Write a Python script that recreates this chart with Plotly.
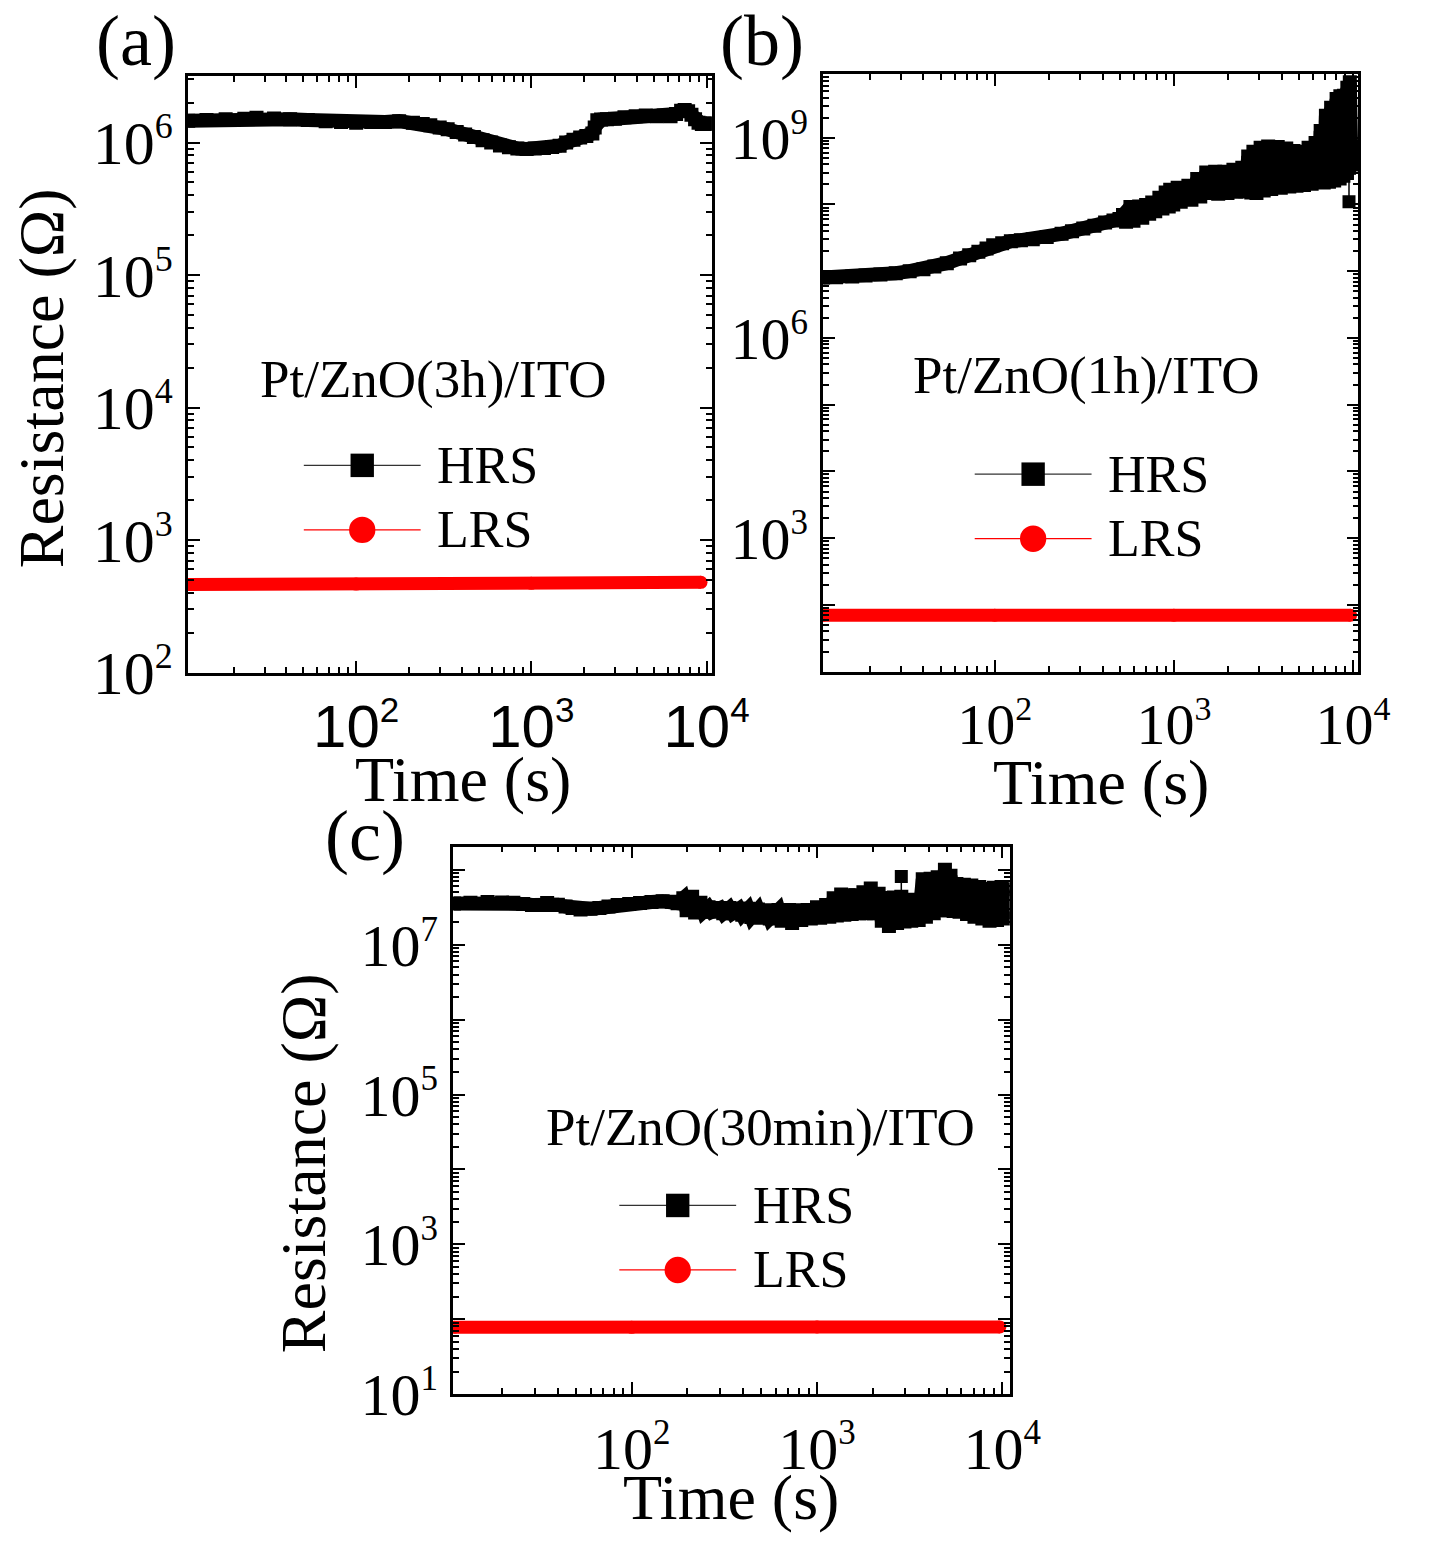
import plotly.graph_objects as go

W, H = 1447, 1566

# ---------------- data ----------------
# (a) Pt/ZnO(3h)/ITO
t_a_hrs = [11, 14, 18, 23, 27, 34, 42, 53, 67, 82, 100, 122, 146, 176, 211, 240, 265, 300,
           333, 375, 419, 470, 527, 590, 662, 745, 832, 940, 1046, 1180, 1315, 1450, 1580,
           1740, 1900, 2060, 2230, 2300, 2380, 2500, 2700, 3000, 3400, 3940, 4500, 5200,
           5700, 6230, 6700, 7160, 7500, 7850, 8200, 8600, 9000, 9400, 9900, 10300]
r_a_hrs = [1.46e6, 1.48e6, 1.50e6, 1.51e6, 1.54e6, 1.52e6, 1.50e6, 1.48e6, 1.45e6, 1.43e6,
           1.41e6, 1.43e6, 1.43e6, 1.45e6, 1.41e6, 1.38e6, 1.35e6, 1.30e6, 1.26e6, 1.20e6,
           1.15e6, 1.10e6, 1.04e6, 1.00e6, 9.5e5, 9.2e5, 9.0e5, 8.95e5, 9.0e5, 9.1e5, 9.25e5,
           9.45e5, 1.00e6, 1.05e6, 1.09e6, 1.12e6, 1.17e6, 1.30e6, 1.47e6, 1.49e6, 1.50e6,
           1.51e6, 1.55e6, 1.58e6, 1.60e6, 1.58e6, 1.60e6, 1.58e6, 1.64e6, 1.74e6, 1.76e6,
           1.72e6, 1.62e6, 1.50e6, 1.41e6, 1.38e6, 1.38e6, 1.40e6]
t_a_lrs = [11, 100, 1000, 9300]
r_a_lrs = [462, 466, 472, 480]

# (b) Pt/ZnO(1h)/ITO
t_b_hrs = [11, 13, 16, 19, 23, 28, 33.5, 40, 46, 54, 64, 72, 81, 90, 98, 110, 123, 140, 163,
           195, 236, 270, 312, 360, 413, 460, 497,
           520, 541, 572, 595, 640, 666, 700, 728, 757, 787, 830, 863, 900, 936, 954, 992,
           1050, 1092, 1205, 1253, 1350, 1404, 1516, 1577, 1700, 1768, 1915, 1992, 2150,
           2236, 2410, 2506, 2600, 2704, 2780, 2891, 3050, 3172, 3360, 3494, 3800, 3952,
           4240, 4410, 4650, 4836, 5120, 5325, 5650, 5876, 6180, 6427, 6600, 6864, 7060,
           7342, 7550, 7852, 8100, 8424, 8500, 8840, 8900, 9256, 9300, 9500, 9600, 9800]
r_b_hrs = [8.07e6, 8.13e6, 8.32e6, 8.6e6, 8.91e6, 9.33e6, 1.0e7, 1.07e7, 1.18e7, 1.32e7,
           1.55e7, 1.74e7, 1.95e7, 2.19e7, 2.45e7, 2.63e7, 2.82e7, 2.92e7, 3.02e7, 3.24e7,
           3.63e7, 3.98e7, 4.37e7, 4.79e7, 5.37e7, 5.75e7, 6.03e7,
           6.92e7, 5.50e7, 9.12e7, 5.69e7, 9.33e7, 6.31e7, 9.77e7, 7.24e7, 1.07e8, 7.94e7,
           1.26e8, 8.71e7, 1.51e8, 9.33e7, 1.66e8, 1.0e8, 1.78e8, 1.10e8, 1.91e8, 1.18e8,
           2.40e8, 1.32e8, 3.02e8, 1.48e8, 3.09e8, 1.45e8, 3.09e8, 1.48e8, 3.31e8, 1.55e8,
           3.55e8, 1.58e8, 5.25e8, 1.51e8, 6.17e8, 1.48e8, 7.08e8, 1.62e8, 7.41e8, 1.70e8,
           7.24e8, 1.78e8, 6.92e8, 1.86e8, 6.31e8, 1.91e8, 6.17e8, 1.95e8, 7.08e8, 2.04e8,
           8.32e8, 2.19e8, 1.26e9, 2.14e8, 2.14e9, 2.19e8, 2.82e9, 2.29e8, 3.80e9, 2.45e8,
           4.17e9, 2.69e8, 4.27e9, 2.95e8, 5.62e9, 3.55e8, 6.76e9, 3.98e8]
t_b_out = [9500, 9500]
r_b_out = [3.55e8, 1.10e8]
t_b_lrs = [11, 100, 1000, 9700]
r_b_lrs = [70, 70, 70, 70]

# (c) Pt/ZnO(30min)/ITO
t_c_hrs = [11, 13.5, 16.7, 20, 23, 26, 29, 35, 40, 44, 48, 53, 60, 67, 75, 84, 97, 111, 128,
           147, 165, 177,
           190, 198, 212, 220, 235, 244, 260, 270, 300, 312, 337, 350, 380, 395, 425, 442,
           480, 499, 535, 556, 620, 645, 706, 734, 790, 822, 890, 926, 1000, 1040, 1120,
           1165, 1230, 1279, 1350, 1404, 1480, 1539, 1620, 1685, 1780, 1851, 1950, 2028,
           2150, 2236, 2350, 2444, 2600, 2704, 2850, 2964, 3100, 3224, 3400, 3536, 3720,
           3869, 4100, 4264, 4480, 4659, 4900, 5096, 5250, 5460, 5650, 5876, 6200, 6448,
           6800, 7072, 7500, 7800, 8200, 8528, 9000, 9360, 9900, 10300, 10600]
r_c_hrs = [3.55e7, 3.63e7, 3.72e7, 3.67e7, 3.63e7, 3.51e7, 3.39e7, 3.60e7, 3.43e7, 3.24e7,
           3.09e7, 2.95e7, 3.02e7, 3.09e7, 3.24e7, 3.39e7, 3.51e7, 3.60e7, 3.72e7, 3.80e7,
           3.76e7, 3.59e7,
           4.17e7, 2.88e7, 4.37e7, 2.69e7, 3.63e7, 2.75e7, 3.16e7, 2.75e7, 3.09e7, 2.63e7,
           3.09e7, 2.63e7, 3.02e7, 2.51e7, 3.02e7, 2.34e7, 2.95e7, 2.29e7, 2.88e7, 2.24e7,
           2.92e7, 2.09e7, 2.92e7, 1.95e7, 2.88e7, 2.14e7, 2.92e7, 2.24e7, 3.16e7, 2.29e7,
           3.39e7, 2.37e7, 4.17e7, 2.45e7, 4.68e7, 2.51e7, 4.57e7, 2.57e7, 4.57e7, 2.63e7,
           5.01e7, 2.63e7, 5.62e7, 2.63e7, 4.79e7, 2.09e7, 4.22e7, 1.78e7, 4.27e7, 1.95e7,
           4.37e7, 2.04e7, 3.98e7, 2.09e7, 3.72e7, 2.14e7, 7.50e7, 2.37e7, 7.59e7, 2.63e7,
           7.94e7, 2.88e7, 1.0e8, 2.88e7, 8.32e7, 2.82e7, 6.46e7, 2.75e7, 6.31e7, 2.57e7,
           6.17e7, 2.37e7, 5.89e7, 2.24e7, 5.56e7, 2.09e7, 5.75e7, 2.14e7, 5.89e7, 2.24e7,
           5.50e7]
t_c_out = [2850, 2850]
r_c_out = [8.13e7, 4.37e7]
t_c_lrs = [11, 100, 1000, 9700]
r_c_lrs = [78, 78, 79, 79]

# axis ranges (log10 units)
xr_a, yr_a = [1.04, 4.03], [2.0, 6.5]
xr_b, yr_b = [1.04, 4.03], [1.0, 9.95]
xr_c, yr_c = [1.035, 4.04], [1.0, 8.31]

# ---------------- helpers ----------------
def px(x):
    return x / W

def py(y):
    return 1 - y / H

SERIF = "Liberation Serif"
SANS = "Liberation Sans"


def pow_label(k, size):
    # exponent drawn a little smaller than plotly's default superscript
    return "10<sup><span style='font-size:%dpx'>%d</span></sup>" % (round(size * 0.58), k)


def minor_vals(lo, hi):
    return [m * 10 ** k for k in range(lo, hi) for m in range(2, 10)]


def log_axis(domain, rng, major, labelled, minor, anchor, font_family, font_size):
    return dict(
        type="log", domain=domain, range=rng, anchor=anchor,
        tickmode="array",
        tickvals=[10 ** k for k in major],
        ticktext=[pow_label(k, font_size) if k in labelled else "" for k in major],
        ticks="inside", ticklen=12, tickwidth=2, tickcolor="black",
        showline=True, linecolor="black", linewidth=2.5, mirror="ticks",
        showgrid=False, zeroline=False,
        tickfont=dict(family=font_family, size=font_size, color="black"),
        minor=dict(tickmode="array", tickvals=minor, ticks="inside", ticklen=6,
                   tickwidth=1.5, tickcolor="black", showgrid=False),
    )


fig = go.Figure()


def add_panel(xa, ya, t_h, r_h, t_l, r_l, t_o=None, r_o=None):
    fig.add_trace(go.Scatter(
        x=t_h, y=r_h, xaxis=xa, yaxis=ya, mode="lines+markers", showlegend=False,
        line=dict(color="black", width=14),
        marker=dict(symbol="square", size=14, color="black")))
    if t_o is not None:
        fig.add_trace(go.Scatter(
            x=t_o, y=r_o, xaxis=xa, yaxis=ya, mode="lines+markers", showlegend=False,
            line=dict(color="black", width=1.5),
            marker=dict(symbol="square", size=13, color="black")))
    fig.add_trace(go.Scatter(
        x=t_l, y=r_l, xaxis=xa, yaxis=ya, mode="lines+markers", showlegend=False,
        line=dict(color="#ff0000", width=13),
        marker=dict(symbol="circle", size=13, color="#ff0000")))


add_panel("x", "y", t_a_hrs, r_a_hrs, t_a_lrs, r_a_lrs)
add_panel("x2", "y2", t_b_hrs, r_b_hrs, t_b_lrs, r_b_lrs, t_b_out, r_b_out)
add_panel("x3", "y3", t_c_hrs, r_c_hrs, t_c_lrs, r_c_lrs, t_c_out, r_c_out)

# panel boxes (pixels): left, right, top, bottom
box_a = (193, 731, 78, 688)
box_b = (845, 1395, 76, 687)
box_c = (465, 1037, 866, 1426)


def dom(box):
    l, r, t, b = box
    return [px(l), px(r)], [py(b), py(t)]


dxa, dya = dom(box_a)
dxb, dyb = dom(box_b)
dxc, dyc = dom(box_c)

fig.update_layout(
    width=W, height=H, margin=dict(l=0, r=0, t=0, b=0),
    paper_bgcolor="white", plot_bgcolor="white", showlegend=False,
    xaxis=log_axis(dxa, xr_a, [2, 3, 4], [2, 3, 4], minor_vals(1, 4), "y", SANS, 60),
    yaxis=log_axis(dya, yr_a, [2, 3, 4, 5, 6], [2, 3, 4, 5, 6], minor_vals(2, 7), "x", SERIF, 62),
    xaxis2=log_axis(dxb, xr_b, [2, 3, 4], [2, 3, 4], minor_vals(1, 4), "y2", SERIF, 58),
    yaxis2=log_axis(dyb, yr_b, list(range(1, 10)), [3, 6, 9], minor_vals(1, 10), "x2", SERIF, 60),
    xaxis3=log_axis(dxc, xr_c, [2, 3, 4], [2, 3, 4], minor_vals(1, 5), "y3", SERIF, 60),
    yaxis3=log_axis(dyc, yr_c, list(range(1, 9)), [1, 3, 5, 7], minor_vals(1, 9), "x3", SERIF, 60),
)

# ---------------- text ----------------
def text(x, y, s, size, angle=0, xanchor="center", family=SERIF):
    fig.add_annotation(x=px(x), y=py(y), xref="paper", yref="paper", text=s,
                       showarrow=False, textangle=angle, xanchor=xanchor, yanchor="middle",
                       font=dict(family=family, size=size, color="black"))


text(140, 42, "(a)", 72)
text(783, 42, "(b)", 72)
text(375, 855, "(c)", 72)

text(42, 387, "Resistance (Ω)", 64, angle=-90)
text(312, 1190, "Resistance (Ω)", 64, angle=-90)
text(475, 797, "Time (s)", 64)
text(1131, 800, "Time (s)", 64)
text(751, 1532, "Time (s)", 64)

text(445, 388, "Pt/ZnO(3h)/ITO", 53)
text(1115, 384, "Pt/ZnO(1h)/ITO", 53)
text(781, 1153, "Pt/ZnO(30min)/ITO", 53)

# legend keys: line + symbol + label
legend_keys = [
    (372, 476, 542),   # panel (a): symbol centre x, HRS row y, LRS row y
    (1061, 485, 551),  # panel (b)
    (696, 1233, 1299), # panel (c)
]
for cx, yh, yl in legend_keys:
    fig.add_shape(type="line", xref="paper", yref="paper",
                  x0=px(cx - 60), x1=px(cx + 60), y0=py(yh), y1=py(yh),
                  line=dict(color="#333333", width=1.2))
    fig.add_shape(type="rect", xref="paper", yref="paper",
                  x0=px(cx - 12), x1=px(cx + 12), y0=py(yh + 12), y1=py(yh - 12),
                  fillcolor="black", line=dict(width=0))
    fig.add_shape(type="line", xref="paper", yref="paper",
                  x0=px(cx - 60), x1=px(cx + 60), y0=py(yl), y1=py(yl),
                  line=dict(color="#ff0000", width=1.2))
    fig.add_shape(type="circle", xref="paper", yref="paper",
                  x0=px(cx - 13.5), x1=px(cx + 13.5), y0=py(yl + 13.5), y1=py(yl - 13.5),
                  fillcolor="#ff0000", line=dict(width=0))
    text(cx + 75, yh, "HRS", 52, xanchor="left")
    text(cx + 75, yl, "LRS", 52, xanchor="left")

fig.write_html("out.html")
